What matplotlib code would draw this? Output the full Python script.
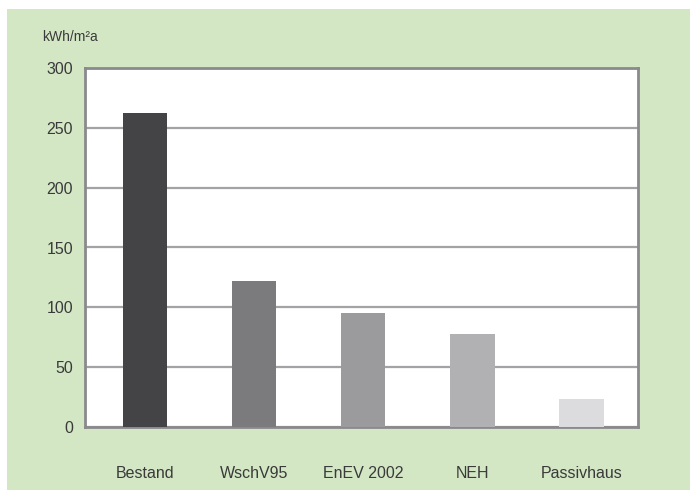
import numpy as np
import matplotlib
matplotlib.use('Agg')
from matplotlib import pyplot as plt
from matplotlib.patches import Rectangle

categories = ["Bestand", "WschV95", "EnEV 2002", "NEH", "Passivhaus"]
values = [262, 122, 95, 78, 23]
bar_colors = ["#444446", "#7b7b7d", "#9b9b9d", "#b1b1b3", "#dcdcde"]
yticks = [0, 50, 100, 150, 200, 250, 300]

plt.rcParams['font.family'] = ['Liberation Sans', 'DejaVu Sans']

fig = plt.figure(figsize=(6.9, 4.9), dpi=100)
fig.patch.set_facecolor("white")
# green panel behind everything, leaving a thin white strip top and left
fig.patches.append(Rectangle((7 / 690, 0), 1, 481 / 490, transform=fig.transFigure,
                             facecolor="#d3e7c5", edgecolor="none", zorder=-10))

ax = fig.add_axes([85 / 690, 63 / 490, 553 / 690, 359 / 490])
ax.set_zorder(5)
ax.set_facecolor("white")
x = np.arange(len(categories))
ax.bar(x, values, width=0.41, color=bar_colors, zorder=3)

ax.set_ylim(0, 300)
ax.set_xlim(-0.55, 4.52)
ax.set_yticks(yticks)
ax.set_yticklabels([str(t) for t in yticks])
ax.set_xticks(x)
ax.set_xticklabels(categories)
ax.yaxis.grid(True, color="#a3a3a5", linewidth=1.6, zorder=1)
ax.tick_params(axis="both", length=0, labelsize=11.5, labelcolor="#3a3a3a")
ax.tick_params(axis="y", pad=8.5)
ax.tick_params(axis="x", pad=28)
for s in ax.spines.values():
    s.set_color("#8a8a8c")
    s.set_linewidth(2)

fig.text(42 / 690, 1 - 37 / 490, "kWh/m²a", fontsize=10, color="#3a3a3a",
         va="center", ha="left")

fig.savefig("out.png", dpi=100, facecolor=fig.get_facecolor())
